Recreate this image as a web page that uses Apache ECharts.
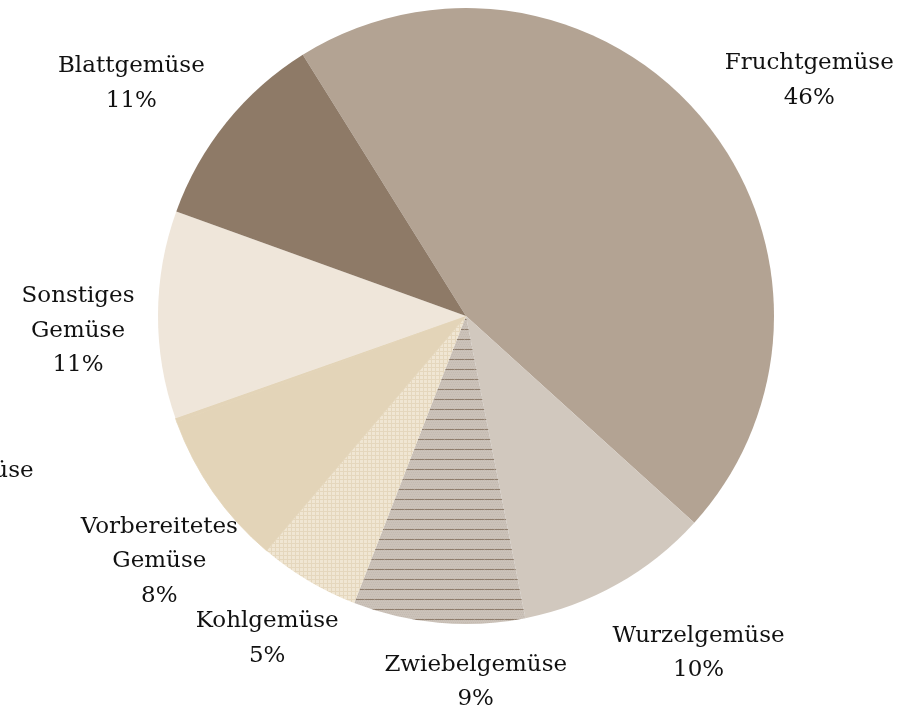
<!DOCTYPE html>
<html>
<head>
<meta charset="utf-8">
<script src="https://cdn.jsdelivr.net/npm/echarts@6/dist/echarts.min.js"></script>
<style>
html,body{margin:0;padding:0;background:#fff;}
#chart{width:909px;height:712px;}
</style>
</head>
<body>
<div id="chart"></div>
<script>
// ---- data ----
const categories = ['Fruchtgemüse', 'Wurzelgemüse', 'Zwiebelgemüse', 'Kohlgemüse', 'Vorbereitetes Gemüse', 'Hülsengemüse', 'Sonstiges Gemüse', 'Blattgemüse'];
const labelTexts = ['Fruchtgemüse', 'Wurzelgemüse', 'Zwiebelgemüse', 'Kohlgemüse', 'Vorbereitetes\nGemüse', 'Hülsengemüse', 'Sonstiges\nGemüse', 'Blattgemüse'];
const values = [45.6, 10.2, 9.0, 5.3, 8.2, 0.2, 10.9, 10.6];

// ---- styles ----
function makePattern(kind) {
  const c = document.createElement('canvas');
  if (kind === 'lines') {
    c.width = 10; c.height = 10;
    const g = c.getContext('2d');
    g.fillStyle = '#cbc2b9'; g.fillRect(0, 0, 10, 10);
    g.fillStyle = '#c4bab0';
    for (let y = 0; y < 10; y += 2) for (let x = (y / 2) % 2 ? 1 : 0; x < 10; x += 2) g.fillRect(x, y, 1, 1);
    g.fillStyle = '#8f7d6c'; g.fillRect(0, 9, 10, 1);
    g.fillStyle = '#a89889'; g.fillRect(4, 9, 1, 1);
  } else {
    c.width = 4; c.height = 4;
    const g = c.getContext('2d');
    g.fillStyle = '#f0e6d3'; g.fillRect(0, 0, 4, 4);
    g.fillStyle = '#e5d7bd'; g.fillRect(0, 3, 4, 1); g.fillRect(3, 0, 1, 4);
  }
  return { image: c, repeat: 'repeat' };
}
const colors = ['#b3a393', '#d1c8be', makePattern('lines'), makePattern('grid'), '#e3d4b8', '#e3d4b8', '#efe6da', '#8e7a67'];
// label box centre offsets from the slice's outer mid-point
const labelOffsets = [[107, -38], [81, 69], [37, 59], [-41, 58], [-54, 69], [-229, 68], [-80, 16], [-95, -39]];

const chart = echarts.init(document.getElementById('chart'), null, { renderer: 'canvas' });
const data = categories.map((n, i) => {
  const item = { name: n, value: values[i], itemStyle: { color: colors[i] } };
  if (typeof colors[i] === 'string' && (i === 4 || i === 5)) {
    item.itemStyle.borderColor = colors[i];
    item.itemStyle.borderWidth = 0.8;
  }
  return item;
});

chart.setOption({
  animation: false,
  backgroundColor: '#fff',
  series: [{
    type: 'pie',
    center: [466, 316],
    radius: 308,
    startAngle: 122,
    clockwise: true,
    percentPrecision: 0,
    avoidLabelOverlap: false,
    data: data,
    label: {
      show: true,
      position: 'outside',
      fontFamily: 'DejaVu Serif',
      fontSize: 23,
      lineHeight: 34.5,
      color: '#111',
      formatter: p => labelTexts[p.dataIndex] + '\n' + p.percent + '%'
    },
    labelLine: { show: true, length: 18, length2: 0, lineStyle: { opacity: 0 } },
    emphasis: { disabled: true },
    labelLayout: function (p) {
      const pts = p.labelLinePoints;
      if (!pts) return {};
      const o = labelOffsets[p.dataIndex];
      return { x: pts[0][0] + o[0], y: pts[0][1] + o[1], align: 'center', verticalAlign: 'middle' };
    }
  }]
});
</script>
</body>
</html>
